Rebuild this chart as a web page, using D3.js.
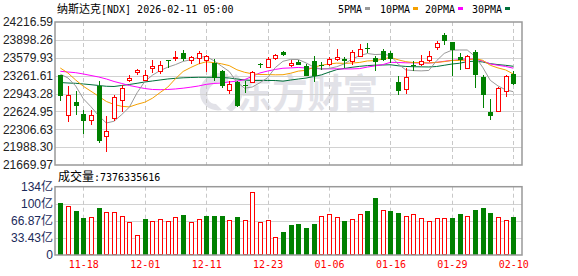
<!DOCTYPE html>
<html>
<head>
<meta charset="utf-8">
<script src="https://cdn.jsdelivr.net/npm/d3@7"></script>
<style>
body { margin: 0; background: #fff; }
svg { display: block; }
</style>
</head>
<body>
<svg id="chart" width="578" height="276"></svg>
<script>
// 日期（交易日）
const dates = ['11-13','11-14','11-17','11-18','11-19','11-20','11-21','11-24','11-25','11-26',
  '11-28','12-01','12-02','12-03','12-04','12-05','12-08','12-09','12-10','12-11',
  '12-12','12-15','12-16','12-17','12-18','12-19','12-22','12-23','12-24','12-26',
  '12-29','12-30','12-31','01-02','01-05','01-06','01-07','01-08','01-09','01-12',
  '01-13','01-14','01-15','01-16','01-20','01-21','01-22','01-23','01-26','01-27',
  '01-28','01-29','01-30','02-02','02-03','02-04','02-05','02-06','02-09','02-10'];

const open = [23267, 22555, 22792, 22578, 22466, 23072, 22181, 22507, 22822, 23189,
  23321, 23189, 23398, 23339, 23535, 23576, 23665, 23535, 23576, 23535,
  23487, 23339, 23000, 23143, 23086, 23143, 23460, 23415, 23576, 23677,
  23446, 23499, 23439, 23517, 23456, 23469, 23558, 23563, 23517, 23606,
  23759, 23576, 23706, 23665, 23148, 23029, 23446, 23469, 23545, 23766,
  23991, 23861, 23588, 23398, 23682, 23232, 22614, 22637, 22983, 23291];
const close = [22894, 22911, 22726, 22448, 22555, 22092, 22270, 22881, 23041, 23219,
  23367, 23278, 23439, 23456, 23522, 23593, 23563, 23588, 23665, 23606,
  23219, 23072, 23118, 22715, 23068, 23321, 23451, 23563, 23624, 23624,
  23487, 23446, 23260, 23260, 23428, 23558, 23593, 23517, 23682, 23741,
  23748, 23499, 23545, 23563, 22983, 23232, 23433, 23517, 23606, 23843,
  23884, 23723, 23535, 23606, 23278, 22922, 22548, 23041, 23250, 23118];
const high = [23273, 23072, 22983, 22655, 22655, 23171, 22537, 22922, 23089, 23278,
  23380, 23367, 23545, 23517, 23535, 23695, 23723, 23617, 23706, 23634,
  23563, 23367, 23161, 23161, 23166, 23349, 23487, 23588, 23647, 23695,
  23545, 23545, 23469, 23606, 23499, 23588, 23736, 23588, 23723, 23825,
  23843, 23606, 23741, 23695, 23250, 23398, 23517, 23624, 23695, 23873,
  24021, 23861, 23665, 23634, 23723, 23278, 22845, 23054, 23278, 23339];
const low = [22810, 22436, 22566, 22222, 22388, 22056, 21896, 22459, 22609, 23148,
  23278, 23161, 23309, 23296, 23398, 23517, 23517, 23474, 23474, 23321,
  23161, 23041, 22940, 22703, 22952, 23130, 23398, 23398, 23535, 23606,
  23421, 23442, 23250, 23148, 23367, 23439, 23517, 23398, 23456, 23588,
  23665, 23339, 23528, 23487, 22922, 22940, 23349, 23439, 23504, 23723,
  23802, 23250, 23367, 23385, 23041, 22685, 22477, 22609, 22881, 23100];

const ma5 = [23288, 23220, 23078, 22850, 22707, 22546, 22418, 22449, 22568, 22701,
  22956, 23157, 23269, 23352, 23412, 23458, 23515, 23544, 23586, 23603,
  23528, 23430, 23336, 23146, 23038, 23059, 23135, 23224, 23405, 23517,
  23550, 23549, 23488, 23415, 23376, 23390, 23420, 23471, 23556, 23618,
  23656, 23637, 23643, 23619, 23468, 23364, 23351, 23346, 23354, 23526,
  23657, 23715, 23718, 23718, 23605, 23413, 23178, 23079, 23008, 22976];
const ma10 = [23397, 23308, 23184, 23072, 22983, 22894, 22801, 22748, 22715, 22704,
  22751, 22788, 22859, 22960, 23057, 23207, 23336, 23407, 23469, 23508,
  23493, 23472, 23440, 23366, 23321, 23294, 23282, 23280, 23276, 23278,
  23304, 23342, 23356, 23410, 23446, 23470, 23484, 23480, 23486, 23497,
  23523, 23529, 23557, 23587, 23543, 23510, 23494, 23494, 23487, 23497,
  23511, 23533, 23532, 23536, 23566, 23535, 23446, 23399, 23363, 23291];
const ma20 = [23339, 23326, 23314, 23291, 23264, 23237, 23202, 23157, 23122, 23086,
  23059, 23032, 23015, 23011, 23015, 23024, 23038, 23056, 23077, 23106,
  23122, 23130, 23150, 23163, 23189, 23250, 23309, 23343, 23372, 23393,
  23399, 23407, 23398, 23388, 23384, 23382, 23383, 23380, 23381, 23387,
  23414, 23435, 23457, 23499, 23495, 23490, 23489, 23487, 23486, 23497,
  23517, 23531, 23545, 23562, 23554, 23523, 23470, 23446, 23425, 23394];
const ma30 = [23139, 23130, 23125, 23113, 23100, 23086, 23072, 23068, 23086, 23104,
  23125, 23148, 23166, 23184, 23202, 23214, 23223, 23228, 23232, 23232,
  23232, 23228, 23219, 23202, 23184, 23175, 23175, 23175, 23175, 23163,
  23183, 23201, 23218, 23245, 23275, 23323, 23368, 23389, 23410, 23427,
  23440, 23448, 23451, 23455, 23437, 23425, 23420, 23418, 23416, 23424,
  23446, 23468, 23482, 23511, 23518, 23505, 23475, 23458, 23445, 23428];

// 成交量（亿）与涨跌（1 = 涨，红）
const volume = [100.9, 95.0, 85.9, 72.2, 73.5, 91.7, 83.3, 83.3, 75.5, 63.8,
  38.4, 70.3, 65.7, 69.6, 65.7, 73.5, 78.1, 64.4, 70.3, 76.1,
  76.1, 76.1, 67.7, 74.2, 67.7, 124.3, 63.8, 67.7, 35.1, 44.9,
  58.6, 60.5, 53.4, 60.5, 76.1, 79.4, 73.5, 66.4, 70.3, 79.4,
  85.9, 111.3, 87.2, 85.9, 81.3, 75.5, 79.4, 71.6, 65.7, 71.6,
  71.6, 72.2, 79.4, 75.5, 87.8, 91.7, 81.3, 73.5, 67.7, 73.76];
const volUp = [0,1,0,0,1,0,1,1,1,1, 1,0,1,1,1,1,0,1,1,0, 0,0,1,0,1,1,1,1,1,0,
  0,0,0,0,1,1,1,0,1,1, 0,0,1,0,0,1,1,1,1,1, 1,0,0,1,0,0,0,1,1,0];

const priceTicks = [21669.97, 21988.30, 22306.63, 22624.95, 22943.28, 23261.61, 23579.93, 23898.26, 24216.59];
const volTicks = [0, 33.435, 66.87, 100.305, 133.74];
const volTickLabels = ['0', '33.43亿', '66.87亿', '100亿', '134亿'];
const dateTicks = ['11-18', '12-01', '12-11', '12-23', '01-06', '01-16', '01-29', '02-10'];

const maSeries = [
  { name: '5PMA', values: ma5, color: '#999999' },
  { name: '10PMA', values: ma10, color: '#f5a000' },
  { name: '20PMA', values: ma20, color: '#ff00ff' },
  { name: '30PMA', values: ma30, color: '#00703a' }
];

const RED = '#ff0000', GREEN = '#008000';
const L = 55, R = 522, T = 22, B = 165, VT = 186.7, VB = 255;
const monoFont = '"DejaVu Sans Mono", "Liberation Mono", monospace';
const cjkFont = '"Noto Sans CJK SC", sans-serif';

const svg = d3.select('#chart');

const x = d3.scalePoint().domain(dates).range([60.3, 513.3]);
const y = d3.scaleLinear().domain([21669.97, 24216.59]).range([B, T]);
const yv = d3.scaleLinear().domain([0, 133.74]).range([VB, VT]);

// 水印
const wm = svg.append('g').attr('fill', '#e2e2e8');
wm.append('path')
  .attr('d', 'M228,74 C212,70 199,80 200,94 C201,106 212,112 222,110 L216,104 C209,104 206,98 208,92 C210,84 219,80 228,82 Z M232,78 C240,84 238,100 226,108 L231,112 C246,102 246,82 236,74 Z');
wm.append('text')
  .attr('x', 237).attr('y', 108)
  .attr('font-family', cjkFont).attr('font-weight', 'bold')
  .attr('font-size', 40)
  .attr('textLength', 141).attr('lengthAdjust', 'spacingAndGlyphs')
  .text('东方财富');

// 网格线
function hGrid(scale, ticks) {
  svg.append('g').selectAll('line')
    .data(ticks)
    .enter().append('line')
    .attr('x1', L).attr('x2', R)
    .attr('y1', d => Math.round(scale(d)) + 0.5)
    .attr('y2', d => Math.round(scale(d)) + 0.5)
    .style('stroke', '#d2d2d2').style('stroke-width', 1);
}
hGrid(y, priceTicks.slice(1, -1));
hGrid(yv, volTicks.slice(1, -1));

function vGrid(top, bottom) {
  svg.append('g').selectAll('line')
    .data(dateTicks)
    .enter().append('line')
    .attr('x1', d => Math.round(x(d)) + 0.5).attr('x2', d => Math.round(x(d)) + 0.5)
    .attr('y1', top).attr('y2', bottom)
    .style('stroke', '#c8c8c8').style('stroke-dasharray', '4,3');
}
vGrid(T, B);
vGrid(VT, VB);

// 均线
const line = d3.line().x((d, i) => x(dates[i])).y(d => y(d));
svg.append('g').selectAll('path')
  .data(maSeries.slice().reverse())
  .enter().append('path')
  .attr('d', d => line(d.values))
  .style('fill', 'none')
  .style('stroke', d => d.color)
  .style('stroke-width', 1);

// K线
const px = v => Math.round(v) + 0.5;
const candles = svg.append('g').selectAll('g')
  .data(dates)
  .enter().append('g');

candles.each(function(d, i) {
  const g = d3.select(this);
  const up = close[i] >= open[i];
  const color = up ? RED : GREEN;
  const cx = px(x(d));
  const top = Math.round(y(Math.max(open[i], close[i])));
  const bot = Math.round(y(Math.min(open[i], close[i])));
  const h = Math.max(1, bot - top);
  const hi = Math.round(y(high[i])), lo = Math.round(y(low[i]));
  if (up) {
    g.append('line').attr('x1', cx).attr('x2', cx)
      .attr('y1', hi).attr('y2', top)
      .style('stroke', color);
    g.append('line').attr('x1', cx).attr('x2', cx)
      .attr('y1', top + h).attr('y2', lo)
      .style('stroke', color);
    g.append('rect')
      .attr('x', cx - 2).attr('y', top + 0.5)
      .attr('width', 4).attr('height', h)
      .style('fill', '#fff').style('stroke', color).style('stroke-width', 1);
  } else {
    g.append('line').attr('x1', cx).attr('x2', cx)
      .attr('y1', hi).attr('y2', lo)
      .style('stroke', color);
    g.append('rect')
      .attr('x', cx - 2.5).attr('y', top)
      .attr('width', 5).attr('height', h)
      .style('fill', color);
  }
});

// 成交量柱
svg.append('g').selectAll('rect')
  .data(volume)
  .enter().append('rect')
  .attr('x', (d, i) => px(x(dates[i])) - (volUp[i] ? 2 : 2.5))
  .attr('y', (d, i) => Math.round(yv(d)) + (volUp[i] ? 0.5 : 0))
  .attr('width', (d, i) => volUp[i] ? 4 : 5)
  .attr('height', (d, i) => Math.round(VB) - Math.round(yv(d)) - (volUp[i] ? 1 : 0))
  .style('fill', (d, i) => volUp[i] ? '#fff' : GREEN)
  .style('stroke', (d, i) => volUp[i] ? RED : 'none')
  .style('stroke-width', 1);

// 边框
svg.append('rect').attr('x', L).attr('y', T).attr('width', R - L).attr('height', B - T)
  .style('fill', 'none').style('stroke', '#999').style('stroke-width', 1.5);
svg.append('rect').attr('x', L).attr('y', VT).attr('width', R - L).attr('height', VB - VT)
  .style('fill', 'none').style('stroke', '#999').style('stroke-width', 1.5);

// 坐标轴文字
const yAxis = svg.append('g')
  .attr('transform', `translate(${L - 1},0)`)
  .call(d3.axisLeft(y).tickValues(priceTicks).tickFormat(d3.format('.2f')).tickSize(0).tickPadding(1));
yAxis.select('.domain').remove();
yAxis.selectAll('text')
  .attr('font-family', '"Liberation Sans", Arial, sans-serif')
  .attr('font-size', 12).attr('fill', '#222');

const vAxis = svg.append('g')
  .attr('transform', `translate(${L - 1},0)`)
  .call(d3.axisLeft(yv).tickValues(volTicks).tickFormat((d, i) => volTickLabels[i]).tickSize(0).tickPadding(1));
vAxis.select('.domain').remove();
vAxis.selectAll('text')
  .attr('font-family', '"Liberation Sans", Arial, ' + cjkFont)
  .attr('font-size', 12).attr('fill', '#1a2a5a');

const xAxis = svg.append('g')
  .attr('transform', `translate(0,${VB})`)
  .call(d3.axisBottom(x).tickValues(dateTicks).tickSize(0).tickPadding(6));
xAxis.select('.domain').remove();
xAxis.selectAll('text')
  .attr('font-family', monoFont).attr('font-size', 10).attr('fill', RED);

// 标题
const title = svg.append('text').attr('x', 57).attr('y', 13).attr('fill', '#000');
title.append('tspan').attr('font-family', cjkFont).attr('font-size', 11).text('纳斯达克');
title.append('tspan').attr('font-family', monoFont).attr('font-size', 10).text('[NDX] 2026-02-11 05:00');

const volLabel = svg.append('text').attr('x', 58).attr('y', 181).attr('fill', '#000');
volLabel.append('tspan').attr('font-family', cjkFont).attr('font-size', 12).text('成交量');
volLabel.append('tspan').attr('font-family', monoFont).attr('font-size', 10).text(':7376335616');

// 图例
const legendX = [338, 380, 425, 472];
const legend = svg.append('g').selectAll('g')
  .data(maSeries)
  .enter().append('g')
  .attr('transform', (d, i) => `translate(${legendX[i]},0)`);
legend.append('text')
  .attr('x', 0).attr('y', 13)
  .attr('font-family', monoFont).attr('font-size', 10).attr('fill', '#000')
  .text(d => d.name);
legend.append('rect')
  .attr('x', d => d.name.length * 6 + 3).attr('y', 7)
  .attr('width', 5).attr('height', 3)
  .style('fill', d => d.color);
</script>
</body>
</html>
